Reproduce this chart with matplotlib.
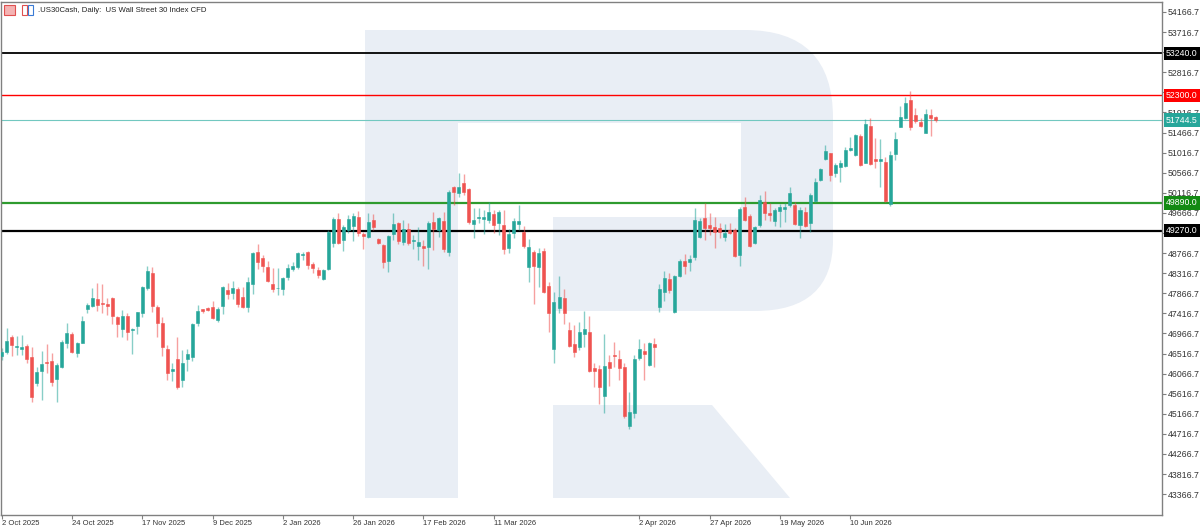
import numpy as np
import matplotlib
matplotlib.use("Agg")
import matplotlib.pyplot as plt
from matplotlib.patches import Rectangle, Polygon, PathPatch
from matplotlib.path import Path
from matplotlib.transforms import blended_transform_factory

# daily candles, oldest first
opens = [46461, 46551, 46893, 46665, 46625, 46692, 46439, 45856, 46125, 46327,
         46349, 45944, 46221, 46759, 46954, 46521, 46759, 47521, 47588, 47731,
         47648, 47633, 47760, 47328, 47066, 47357, 47037, 47140, 47417, 47978,
         48313, 47566, 47193, 46611, 46132, 46387, 45924, 46394, 46446, 47193,
         47507, 47543, 47566, 47268, 47581, 47940, 47866, 47962, 47783, 47552,
         48074, 48784, 48650, 48461, 48074, 47978, 47962, 48224, 48403, 48461,
         48717, 48797, 48515, 48388, 48186, 48403, 48999, 49530, 49060, 49283,
         49380, 49568, 49194, 49120, 49507, 49075, 48947, 48589, 49194, 49433,
         49022, 49299, 49044, 48925, 48932, 48896, 49469, 49283, 49492, 48784,
         50240, 50119, 50330, 50195, 49418, 49559, 49536, 49507, 49635, 49447,
         49395, 48874, 49210, 49418, 49232, 48461, 48784, 48461, 48813, 48035,
         46618, 47543, 47767, 47043, 46730, 46669, 46954, 46992, 46199, 46163,
         45565, 46334, 46483, 46394, 46208, 44900, 45191, 46416, 46580, 46260,
         46730, 47552, 47901, 48186, 47440, 48253, 48596, 48573, 48672, 49120,
         49546, 49395, 49344, 49322, 49133, 49283, 49283, 48724, 49792, 49604,
         48985, 49395, 49917, 49658, 49492, 49716, 49754, 49843, 49843, 49395,
         49693, 49433, 49940, 50403, 50874, 51001, 50553, 50688, 50717, 51075,
         50963, 51389, 50791, 51620, 50867, 50836, 50813, 49866, 50986, 51599,
         51786, 52195, 51859, 51696, 51463, 51859, 51808]
highs = [46640, 47088, 46931, 46909, 46931, 46730, 46663, 46215, 46580, 46730,
         46528, 46304, 46819, 47200, 47006, 46781, 47357, 47648, 47991, 48096,
         48074, 47760, 47790, 47357, 47491, 47417, 47088, 47454, 48029, 48477,
         48461, 47604, 47328, 46707, 46311, 46893, 46595, 46611, 47207, 47604,
         47514, 47552, 47700, 47566, 48029, 48090, 48148, 47999, 47999, 48224,
         48797, 48970, 48724, 48596, 48425, 48439, 48224, 48522, 48573, 48797,
         48797, 48820, 48573, 48448, 48418, 49283, 49581, 49658, 49395, 49619,
         49671, 49716, 49246, 49658, 49635, 49104, 48970, 49171, 49658, 49469,
         49507, 49447, 49171, 49344, 49060, 49492, 49693, 49581, 49693, 50179,
         50270, 50553, 50538, 50217, 49770, 49776, 49731, 49917, 49731, 49731,
         49731, 49299, 49546, 49843, 49373, 49075, 48835, 48874, 48874, 48125,
         47901, 48253, 47955, 47230, 47155, 47230, 47469, 47357, 46298, 46260,
         46954, 46483, 46781, 46595, 46298, 45661, 46483, 46835, 46745, 46781,
         46857, 48074, 48372, 48313, 48276, 48627, 48746, 48724, 49770, 49546,
         49895, 49658, 49568, 49447, 49418, 49433, 49322, 49792, 50029, 49635,
         49373, 50067, 50164, 49895, 49770, 49866, 49881, 50253, 49917, 49805,
         49792, 50105, 50441, 50665, 51188, 51015, 50777, 50851, 51149, 51373,
         51434, 51427, 51763, 51786, 51338, 51316, 50925, 51060, 51485, 52061,
         52269, 52404, 52010, 51786, 51987, 51987, 51837]
lows = [46371, 46506, 46461, 46483, 46483, 46304, 45437, 45789, 45475, 46080,
        45796, 45437, 46192, 46647, 46535, 46446, 46752, 47424, 47552, 47476,
        47424, 47380, 47178, 46880, 46893, 46819, 46506, 46954, 47342, 47940,
        47440, 46880, 46461, 45924, 45908, 45715, 45760, 46132, 46356, 47133,
        47417, 47469, 47290, 47230, 47402, 47731, 47745, 47552, 47536, 47453,
        47850, 48403, 48349, 48125, 47901, 47828, 47828, 48164, 48372, 48403,
        48611, 48410, 48327, 48201, 48164, 48388, 48896, 48970, 48806, 49210,
        49037, 49156, 48865, 49098, 49283, 48970, 48425, 48336, 49060, 48970,
        48947, 48947, 48858, 48611, 48477, 48403, 48835, 49133, 48797, 48708,
        49843, 50029, 50067, 49418, 49098, 49440, 49194, 49433, 49210, 49171,
        48746, 48762, 49098, 49283, 48874, 48125, 47626, 47999, 47866, 46992,
        46298, 47417, 47178, 46657, 46446, 46595, 46669, 46110, 45760, 45386,
        45191, 45789, 46221, 45924, 45066, 44826, 45066, 46371, 45924, 46244,
        46221, 47453, 47700, 47866, 47417, 48238, 48298, 48372, 48611, 49098,
        49060, 49171, 48874, 49098, 49044, 49194, 48688, 48477, 49492, 48909,
        48970, 49357, 49507, 49492, 49373, 49344, 49469, 49805, 49395, 49098,
        49357, 49246, 49917, 50388, 50851, 50388, 50477, 50365, 50701, 51060,
        50941, 50717, 50777, 50739, 50666, 50253, 49917, 49828, 50851, 51584,
        51770, 51523, 51674, 51599, 51449, 51389, 51709]
closes = [46551, 46797, 46707, 46680, 46669, 46387, 45549, 46103, 46282, 46304,
          45885, 46266, 46781, 46970, 46558, 46752, 47245, 47604, 47754, 47604,
          47633, 47574, 47357, 47178, 47357, 47005, 47059, 47440, 48013, 48365,
          47588, 47193, 46669, 46087, 46163, 45760, 46311, 46499, 47178, 47469,
          47462, 47498, 47305, 47507, 47999, 47850, 47978, 47626, 47552, 48125,
          48775, 48560, 48484, 48148, 47962, 47991, 48201, 48425, 48477, 48762,
          48746, 48499, 48425, 48276, 48388, 49239, 49523, 48999, 49344, 49523,
          49604, 49210, 49156, 49469, 49357, 48999, 48573, 49156, 49418, 49044,
          49306, 48999, 49060, 49022, 48887, 49447, 49299, 49546, 48858, 50128,
          50141, 50253, 50141, 49469, 49507, 49581, 49581, 49680, 49395, 49680,
          48858, 49194, 49492, 49492, 48932, 48896, 48484, 48762, 47901, 47431,
          47664, 47776, 47417, 46692, 46558, 47005, 47066, 46132, 46132, 45760,
          46237, 46186, 46468, 46199, 45117, 45200, 46394, 46611, 46506, 46745,
          46669, 47955, 48215, 47940, 48260, 48589, 48484, 48627, 49507, 49492,
          49322, 49322, 49232, 49232, 49210, 49210, 48701, 49747, 49507, 48925,
          49344, 49955, 49671, 49613, 49731, 49792, 49805, 50105, 49418, 49731,
          49380, 50067, 50365, 50643, 51053, 50515, 50739, 50791, 51075, 51127,
          51411, 50739, 51651, 50762, 50836, 50867, 49940, 50963, 51315, 51821,
          52135, 51599, 51725, 51620, 51875, 51786, 51744.5]

date_labels = ['2 Oct 2025', '24 Oct 2025', '17 Nov 2025', '9 Dec 2025',
               '2 Jan 2026', '26 Jan 2026', '17 Feb 2026', '11 Mar 2026',
               '2 Apr 2026', '27 Apr 2026', '19 May 2026', '10 Jun 2026']
date_bars = [0, 14, 28, 42, 56, 70, 84, 98, 127, 141, 155, 169]

# horizontal levels: price, line colour, label background, width
levels = [(53240.0, '#000000', '#000000', 1.3),
          (52300.0, '#ff0000', '#ff0000', 1.0),
          (51744.5, '#72c8c0', '#26a69a', 0.8),
          (49890.0, '#2e9b2e', '#138a13', 1.6),
          (49270.0, '#000000', '#000000', 1.6)]

UP = '#26a69a'
DOWN = '#ef5350'
WM = '#e9eef5'

o = np.array(opens, float)
h = np.array(highs, float)
l = np.array(lows, float)
c = np.array(closes, float)
x = np.arange(len(o))
up = c >= o
col = np.where(up, UP, DOWN)

fig = plt.figure(figsize=(12, 5.29), dpi=100)
ax = fig.add_axes([1 / 1200, 14 / 529, 1161 / 1200, 513 / 529])
ax.set_xlim(-0.14, 231.1)
ax.set_ylim(42900, 54390)

# watermark "R" drawn in axes fractions from pixel outline
def px(xp, yp):
    return ((xp - 1) / 1161, (515 - yp) / 513)

ax.add_patch(Polygon([px(365, 30), px(458, 30), px(458, 498), px(365, 498)],
                     closed=True, transform=ax.transAxes, fc=WM, ec='none', zorder=0))
verts = [px(458, 30), px(745, 30),
         px(833, 30), px(833, 118),
         px(833, 240),
         px(833, 311), px(755, 311),
         px(553, 311), px(553, 217), px(741, 217), px(741, 123), px(458, 123),
         px(458, 30)]
codes = [Path.MOVETO, Path.LINETO,
         Path.CURVE3, Path.CURVE3,
         Path.LINETO,
         Path.CURVE3, Path.CURVE3,
         Path.LINETO, Path.LINETO, Path.LINETO, Path.LINETO, Path.LINETO,
         Path.CLOSEPOLY]
ax.add_patch(PathPatch(Path(verts, codes), transform=ax.transAxes,
                       fc=WM, ec='none', zorder=0))
ax.add_patch(Polygon([px(553, 405), px(712, 405), px(790, 498), px(553, 498)],
                     closed=True, transform=ax.transAxes, fc=WM, ec='none', zorder=0))

# level lines
for price, lc, bc, lw in levels:
    ax.axhline(price, color=lc, lw=lw, zorder=1)

# candles
ax.vlines(x, l, h, colors=col, lw=1, alpha=0.55, zorder=2)
body = np.abs(c - o)
ax.bar(x, np.maximum(body, 15), bottom=np.minimum(o, c), width=0.6,
       color=col, edgecolor=col, lw=0.4, zorder=3)

# axes styling
for s in ax.spines.values():
    s.set_color('#808080')
    s.set_linewidth(1)
ax.yaxis.tick_right()
yt = np.arange(54166.7, 43000, -450)
ax.set_yticks(yt)
ax.set_yticklabels([f'{v:.1f}' for v in yt])
ax.tick_params(axis='y', direction='out', length=3, width=0.8, colors='#808080',
               labelcolor='#333333', labelsize=6.3, pad=1)
for t in ax.get_yticklabels():
    t.set_fontfamily('Liberation Sans')

ax.set_xticks(date_bars)
ax.set_xticklabels(date_labels)
ax.tick_params(axis='x', direction='out', length=3, width=0.8, colors='#808080',
               labelcolor='#333333', labelsize=5.5, pad=0.5)
for t in ax.get_xticklabels():
    t.set_ha('left')
    t.set_fontfamily('Liberation Sans')

# price labels on the right scale
tr = blended_transform_factory(ax.transAxes, ax.transData)
for price, lc, bc, lw in levels:
    ax.text(1.0035, price, f'{price:.1f}', transform=tr, ha='left', va='center',
            fontsize=6.3, family='Liberation Sans', color='white', clip_on=False,
            zorder=10, bbox=dict(boxstyle='square,pad=0.25', fc=bc, ec='none'))

# header with two small icons
fig.patches.append(Rectangle((4 / 1200, 1 - 15 / 529), 11 / 1200, 10 / 529,
                             transform=fig.transFigure, fc='#f4b3b3', ec='#e05050', lw=0.8))
fig.patches.append(Rectangle((22 / 1200, 1 - 15 / 529), 5 / 1200, 10 / 529,
                             transform=fig.transFigure, fc='white', ec='#e05050', lw=0.8))
fig.patches.append(Rectangle((28 / 1200, 1 - 15 / 529), 5 / 1200, 10 / 529,
                             transform=fig.transFigure, fc='white', ec='#3a7bd5', lw=0.8))
fig.text(38 / 1200, 1 - 10 / 529, '.US30Cash, Daily:  US Wall Street 30 Index CFD',
         ha='left', va='center', fontsize=5.6, family='Liberation Sans', color='#222222')

fig.savefig('out.png', dpi=100)
